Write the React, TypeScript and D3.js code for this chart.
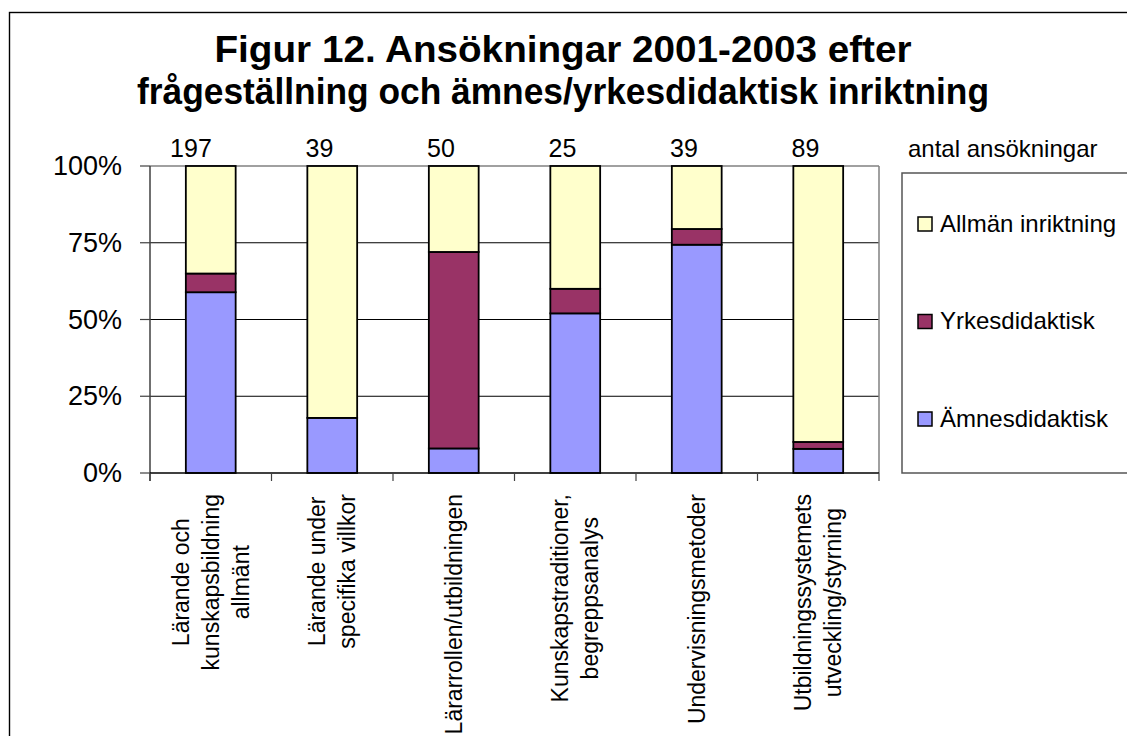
import React, { useMemo } from "react";
import * as d3 from "d3";

const categories: string[][] = [
  ["Lärande och", "kunskapsbildning", "allmänt"],
  ["Lärande under", "specifika villkor"],
  ["Lärarrollen/utbildningen"],
  ["Kunskapstraditioner,", "begreppsanalys"],
  ["Undervisningsmetoder"],
  ["Utbildningssystemets", "utveckling/styrning"],
];
const amnesdidaktisk = [116, 7, 4, 13, 29, 7];
const yrkesdidaktisk = [12, 0, 32, 2, 2, 2];
const allmanInriktning = [69, 32, 14, 10, 8, 80];
const seriesNames = ["Ämnesdidaktisk", "Yrkesdidaktisk", "Allmän inriktning"];
const seriesColors = ["#9999FF", "#993366", "#FFFFCC"];
const yTicks = [0, 0.25, 0.5, 0.75, 1];
const titleLines = [
  "Figur 12. Ansökningar 2001-2003 efter",
  "frågeställning och ämnes/yrkesdidaktisk inriktning",
];
const titleWidths = [697, 852];
const countHeader = "antal ansökningar";

const FONT = '"Liberation Sans", Arial, sans-serif';

export default function App() {
  const W = 1127;
  const H = 736;
  const plot = { left: 150, right: 879, top: 166, bottom: 473 };

  const keys = categories.map((_, i) => String(i));
  const rows = keys.map((k, i) => ({
    key: k,
    s0: amnesdidaktisk[i],
    s1: yrkesdidaktisk[i],
    s2: allmanInriktning[i],
  }));
  const totals = rows.map((r) => r.s0 + r.s1 + r.s2);

  const stacked = d3
    .stack<any>()
    .keys(["s0", "s1", "s2"])
    .offset(d3.stackOffsetExpand)(rows);

  const x = d3.scaleBand().domain(keys).range([plot.left, plot.right]).padding(0);
  const y = d3.scaleLinear().domain([0, 1]).range([plot.bottom, plot.top]);
  const barW = x.bandwidth() * 0.41;

  const labelFont = 23;
  const widths = useMemo(() => {
    const c = document.createElement("canvas").getContext("2d")!;
    c.font = `${labelFont}px ${FONT}`;
    return categories.map((lines) => Math.max(...lines.map((l) => c.measureText(l).width)));
  }, []);

  const lineH = 30;
  const labelTop = 494;

  return (
    <svg
      width={W}
      height={H}
      style={{ position: "absolute", left: 0, top: 0, display: "block", background: "#fff" }}
      fontFamily={FONT}
    >
      <rect x={9.5} y={12.5} width={W + 20} height={H + 20} fill="#fff" stroke="#000" strokeWidth={1.4} />

      {/* title */}
      {titleLines.map((t, i) => (
        <text
          key={i}
          x={563}
          y={62 + i * 42}
          textAnchor="middle"
          fontSize={36}
          fontWeight="bold"
          fill="#000"
          textLength={titleWidths[i]}
          lengthAdjust="spacingAndGlyphs"
        >
          {t}
        </text>
      ))}

      {/* gridlines */}
      {yTicks.slice(1, 4).map((t) => (
        <line key={t} x1={plot.left} x2={plot.right} y1={y(t)} y2={y(t)} stroke="#000" strokeWidth={1} />
      ))}
      {/* plot border top/right */}
      <line x1={plot.left} x2={plot.right} y1={y(1)} y2={y(1)} stroke="#808080" strokeWidth={1.5} />
      <line x1={plot.right} x2={plot.right} y1={plot.top} y2={plot.bottom} stroke="#808080" strokeWidth={1.5} />

      {/* bars */}
      {stacked.map((s, si) =>
        s.map((d, i) =>
          d[1] - d[0] > 0 ? (
            <rect
              key={`${si}-${i}`}
              x={(x(keys[i]) as number) + (x.bandwidth() - barW) / 2}
              y={y(d[1])}
              width={barW}
              height={y(d[0]) - y(d[1])}
              fill={seriesColors[si]}
              stroke="#000"
              strokeWidth={1.8}
            />
          ) : null
        )
      )}

      {/* y axis */}
      <line x1={plot.left} x2={plot.left} y1={plot.top} y2={plot.bottom + 8} stroke="#404040" strokeWidth={1.5} />
      {yTicks.map((t) => (
        <g key={t}>
          <line x1={plot.left - 10} x2={plot.left} y1={y(t)} y2={y(t)} stroke="#404040" strokeWidth={1.2} />
          <text
            x={122}
            y={y(t)}
            textAnchor="end"
            dominantBaseline="central"
            fontSize={27}
            fill="#000"
          >
            {d3.format(".0%")(t)}
          </text>
        </g>
      ))}

      {/* x axis */}
      <line x1={plot.left} x2={plot.right} y1={plot.bottom} y2={plot.bottom} stroke="#000" strokeWidth={1.5} />
      {keys.concat(["end"]).map((k, i) => {
        const xx = k === "end" ? plot.right : (x(k) as number);
        return <line key={i} x1={xx} x2={xx} y1={plot.bottom} y2={plot.bottom + 8} stroke="#404040" strokeWidth={1.2} />;
      })}

      {/* category labels */}
      {categories.map((lines, ci) => {
        const cx = (x(keys[ci]) as number) + x.bandwidth() / 2;
        const cy = labelTop + widths[ci] / 2;
        return lines.map((l, li) => (
          <text
            key={`${ci}-${li}`}
            transform={`translate(${cx + (li - (lines.length - 1) / 2) * lineH},${cy}) rotate(-90)`}
            textAnchor="middle"
            dominantBaseline="central"
            fontSize={labelFont}
            fill="#000"
          >
            {l}
          </text>
        ));
      })}

      {/* counts above bars */}
      {totals.map((t, i) => (
        <text
          key={i}
          x={(x(keys[i]) as number) + (x.bandwidth() - barW) / 2 + 26}
          y={157}
          textAnchor="end"
          fontSize={25}
          fill="#000"
        >
          {t}
        </text>
      ))}
      <text x={908} y={157} fontSize={24} fill="#000">
        {countHeader}
      </text>

      {/* legend */}
      <rect x={902} y={173} width={260} height={300} fill="#fff" stroke="#555" strokeWidth={1.5} />
      {[2, 1, 0].map((si, i) => {
        const cy = 223 + i * 97.5;
        return (
          <g key={si}>
            <rect x={918} y={cy - 6} width={14} height={14} fill={seriesColors[si]} stroke="#000" strokeWidth={1.5} />
            <text x={940} y={cy} dominantBaseline="central" fontSize={24} fill="#000">
              {seriesNames[si]}
            </text>
          </g>
        );
      })}
    </svg>
  );
}
